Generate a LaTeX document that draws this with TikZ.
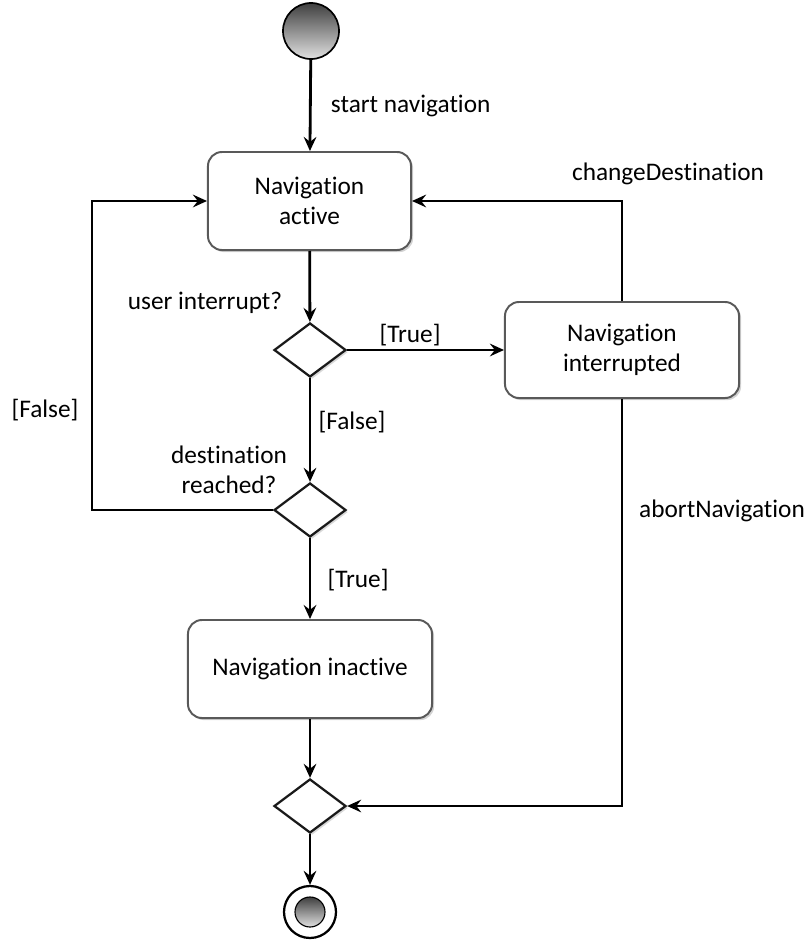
\documentclass[tikz,border=0pt]{standalone}
\usepackage{fontspec}
\setmainfont{Carlito}[Ligatures=NoCommon]
\usetikzlibrary{arrows.meta,shapes.geometric,shadows}

\tikzset{
  state/.style={draw=black!65,rounded corners=0.35cm,line width=1.4pt,fill=white,
    align=center,drop shadow={shadow xshift=1.5pt,shadow yshift=-1.5pt,opacity=0.35}},
  choice/.style={draw=black!90,diamond,line width=1.6pt,fill=white,inner sep=0pt,
    minimum width=1.8cm,minimum height=1.35cm,
    drop shadow={shadow xshift=1.5pt,shadow yshift=-1.5pt,opacity=0.3}},
  flow/.style={-{Stealth[length=10pt,width=9pt,inset=3.5pt]},line width=2pt},
  lbl/.style={align=center}
}

\begin{document}
\begin{tikzpicture}[x=0.025cm,y=-0.025cm,font=\fontsize{18}{21.5}\selectfont]
  \useasboundingbox (0,0) rectangle (807,940);
  % nodes
  \node[circle,draw,line width=1.2pt,minimum size=1.4cm,inner sep=0pt,top color=black!75,bottom color=black!12] (start) at (311,31) {};
  \node[state,minimum width=5.075cm,minimum height=2.45cm] (active) at (309.5,201) {Navigation\\active};
  \node[choice] (d1) at (310,350) {};
  \node[state,minimum width=5.85cm,minimum height=2.4cm] (interr) at (622,350) {Navigation\\interrupted};
  \node[choice] (d2) at (310,510) {};
  \node[state,minimum width=6.1cm,minimum height=2.45cm] (inactive) at (310,669) {Navigation inactive};
  \node[choice] (merge) at (310,806) {};
  \node[circle,draw,line width=1.6pt,minimum size=1.3cm,inner sep=0pt] (stop) at (310,912) {};
  \node[circle,draw,line width=0.8pt,minimum size=0.75cm,inner sep=0pt,top color=black!75,bottom color=black!12] (stopin) at (stop) {};
  \coordinate (back) at (92,201);

  % connectors
  \draw[flow] (start) -- (active);
  \draw[flow] (active) -- (d1);
  \draw[flow] (d1) -- (interr);
  \draw[flow] (interr) |- (active);
  \draw[flow] (interr) |- (merge);
  \draw[flow] (d1) -- (d2);
  \draw[flow] (d2) -| (back) -- (active);
  \draw[flow] (d2) -- (inactive);
  \draw[flow] (inactive) -- (merge);
  \draw[flow] (merge) -- (stop);

  % labels
  \node[lbl,anchor=west] (lstart) at (326,106) {start navigation};
  \node[lbl] (lchange) at (668,174) {changeDestination};
  \node[lbl] (luser) at (205,303) {user interrupt?};
  \node[lbl] (ltrue1) at (410,335) {[True]};
  \node[lbl] (lfalse1) at (352,422) {[False]};
  \node[lbl] (ldest) at (229,470) {destination\\reached?};
  \node[lbl] (lfalse2) at (45,410) {[False]};
  \node[lbl] (labort) at (722,511) {abortNavigation};
  \node[lbl] (ltrue2) at (358,580) {[True]};
\end{tikzpicture}
\end{document}
